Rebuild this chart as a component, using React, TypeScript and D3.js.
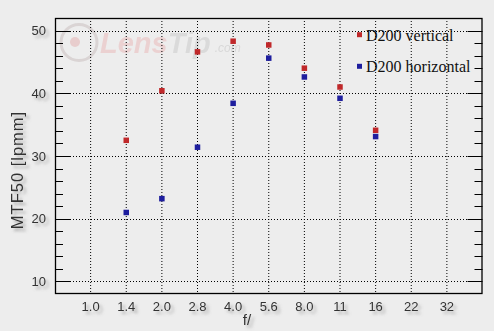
import React from "react";
import * as d3 from "d3";

const apertures = ["1.0", "1.4", "2.0", "2.8", "4.0", "5.6", "8.0", "11", "16", "22", "32"];
const vertCats = ["1.4", "2.0", "2.8", "4.0", "5.6", "8.0", "11", "16"];
const vertical = [32.5, 40.4, 46.6, 48.3, 47.7, 44.0, 41.0, 34.1];
const horizontal = [21.0, 23.2, 31.4, 38.4, 45.6, 42.6, 39.2, 33.1];
const majorTicks = [10, 20, 30, 40, 50];
const minorTicks = [12, 14, 16, 18, 22, 24, 26, 28, 32, 34, 36, 38, 42, 44, 46, 48];
const seriesNames = ["D200 vertical", "D200 horizontal"];
const seriesColors = ["#c0282a", "#1e1e9e"];

const W = 494, H = 331;
const L = 55, R = 482.5, T = 18, B = 294;

export default function App() {
  const x = d3.scalePoint<string>().domain(apertures).range([L, R]).padding(1);
  const y = d3.scaleLinear().domain([8, 52]).range([B, T]);
  const ms = 5.5;
  const series = [vertical, horizontal];
  const labelFont = "'Liberation Sans', Arial, sans-serif";
  return (
    <svg width={W} height={H} style={{ position: "absolute", left: 0, top: 0, background: "#ededed" }}>
      <defs>
        <filter id="sh" x="-50%" y="-50%" width="200%" height="200%">
          <feDropShadow dx="3" dy="3" stdDeviation="1.6" floodColor="#7a7a7a" floodOpacity="0.55" />
        </filter>
      </defs>
      <rect x={0} y={0} width={W} height={H} fill="#ededed" />
      {/* watermark */}
      <g opacity={0.9}>
        <circle cx={79} cy={42.5} r={18} fill="none" stroke="#d8d2d2" strokeWidth={3} />
        <circle cx={75} cy={42} r={5} fill="#e8caca" />
        <text x={100} y={53} fontFamily={labelFont} fontStyle="italic" fontWeight="bold" fontSize={29} fill="#ebcfcf">
          Lens<tspan fill="#d9d9d9">Tip</tspan>
          <tspan dx={4} dy={-1} fontSize={12} fontWeight="normal" fill="#d6d6d6">.com</tspan>
        </text>
      </g>
      {/* grid */}
      {apertures.map((a) => (
        <line key={"vg" + a} x1={x(a)} x2={x(a)} y1={T} y2={B} stroke="#000" strokeWidth={1} strokeDasharray="1,2" />
      ))}
      {majorTicks.map((t) => (
        <line key={"hg" + t} x1={L + 15} x2={R - 15} y1={Math.round(y(t)) + 0.5} y2={Math.round(y(t)) + 0.5} stroke="#000" strokeWidth={1} strokeDasharray="1,2" />
      ))}
      {/* ticks */}
      {majorTicks.map((t) => (
        <g key={"mt" + t}>
          <line x1={L} x2={L + 15} y1={Math.round(y(t)) + 0.5} y2={Math.round(y(t)) + 0.5} stroke="#000" />
          <line x1={R - 15} x2={R} y1={Math.round(y(t)) + 0.5} y2={Math.round(y(t)) + 0.5} stroke="#000" />
        </g>
      ))}
      {minorTicks.map((t) => (
        <g key={"nt" + t}>
          <line x1={L} x2={L + 8} y1={Math.round(y(t)) + 0.5} y2={Math.round(y(t)) + 0.5} stroke="#000" />
          <line x1={R - 8} x2={R} y1={Math.round(y(t)) + 0.5} y2={Math.round(y(t)) + 0.5} stroke="#000" />
        </g>
      ))}
      {/* frame */}
      <rect x={L + 0.5} y={T + 0.5} width={R - L - 1} height={B - T - 1} fill="none" stroke="#000" strokeWidth={1.3} />
      {/* points */}
      {series.map((vals, si) =>
        vals.map((v, i) => (
          <rect key={"p" + si + i} x={(x(vertCats[i]) as number) - ms / 2} y={y(v) - ms / 2} width={ms} height={ms} fill={seriesColors[si]} />
        ))
      )}
      {/* tick labels */}
      <g fontFamily={labelFont} fontSize={13} fill="#333" filter="url(#sh)">
        {majorTicks.map((t) => (
          <text key={"yl" + t} x={46} y={y(t) + 4.5} textAnchor="end">{t}</text>
        ))}
        {apertures.map((a) => (
          <text key={"xl" + a} x={x(a)} y={311} textAnchor="middle">{a}</text>
        ))}
        <text x={247} y={325} textAnchor="middle" fontSize={15}>f/</text>
        <text transform={`translate(23,${170}) rotate(-90)`} textAnchor="middle" fontSize={16.5} letterSpacing={1}>MTF50 [lpmm]</text>
      </g>
      {/* legend */}
      {seriesNames.map((n, i) => (
        <g key={"lg" + n}>
          <rect x={357} y={(i === 0 ? 34.7 : 66.3) - 2.5} width={5} height={5} fill={seriesColors[i]} />
          <text x={366} y={i === 0 ? 40.7 : 72.3} fontFamily="'Liberation Serif', 'Times New Roman', serif" fontSize={16} fill="#111">{n}</text>
        </g>
      ))}
    </svg>
  );
}
